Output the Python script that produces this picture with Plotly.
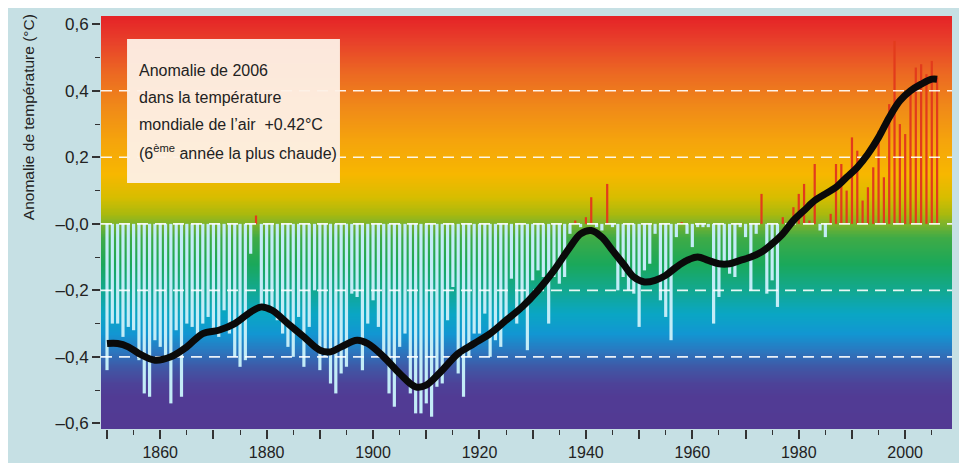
import plotly.graph_objects as go

# ---------------- data ----------------
years = list(range(1850, 2007))
anomaly = [
    -0.44, -0.30, -0.30, -0.34, -0.31, -0.32, -0.41, -0.51, -0.52, -0.35,   # 1850-1859
    -0.37, -0.41, -0.54, -0.32, -0.52, -0.30, -0.31, -0.34, -0.30, -0.28,   # 1860-1869
    -0.32, -0.34, -0.26, -0.33, -0.40, -0.43, -0.41, -0.09, 0.025, -0.26,   # 1870-1879
    -0.25, -0.25, -0.29, -0.33, -0.37, -0.40, -0.28, -0.43, -0.31, -0.20,   # 1880-1889
    -0.44, -0.40, -0.48, -0.51, -0.45, -0.43, -0.21, -0.22, -0.44, -0.30,   # 1890-1899
    -0.23, -0.31, -0.40, -0.51, -0.55, -0.37, -0.33, -0.51, -0.57, -0.57,   # 1900-1909
    -0.54, -0.58, -0.49, -0.48, -0.29, -0.19, -0.45, -0.52, -0.40, -0.33,   # 1910-1919
    -0.33, -0.27, -0.40, -0.35, -0.37, -0.30, -0.165, -0.30, -0.26, -0.38,  # 1920-1929
    -0.17, -0.14, -0.16, -0.30, -0.16, -0.18, -0.16, -0.03, 0.01, -0.01,    # 1930-1939
    0.02, 0.08, -0.01, -0.02, 0.12, -0.01, -0.20, -0.16, -0.20, -0.21,      # 1940-1949
    -0.31, -0.14, -0.12, -0.03, -0.23, -0.28, -0.35, -0.04, 0.005, -0.03,   # 1950-1959
    -0.07, -0.01, -0.01, -0.01, -0.30, -0.22, -0.13, -0.15, -0.16, -0.01,   # 1960-1969
    -0.04, -0.20, -0.03, 0.09, -0.21, -0.17, -0.25, 0.02, -0.01, 0.05,      # 1970-1979
    0.09, 0.12, 0.01, 0.18, -0.02, -0.04, 0.03, 0.18, 0.18, 0.10,           # 1980-1989
    0.26, 0.22, 0.07, 0.11, 0.17, 0.28, 0.14, 0.36, 0.55, 0.30,             # 1990-1999
    0.27, 0.40, 0.47, 0.48, 0.45, 0.49, 0.44,                               # 2000-2006
]

smooth_years = [1850, 1852, 1854, 1856, 1859, 1862, 1865, 1868, 1871, 1874, 1877, 1879,
                1881, 1884, 1887, 1890, 1892, 1894, 1897, 1899, 1902, 1905, 1908, 1910,
                1913, 1916, 1919, 1922, 1925, 1928, 1931, 1934, 1937, 1939, 1941, 1943,
                1945, 1947, 1949, 1951, 1953, 1955, 1957, 1959, 1961, 1963, 1965, 1967,
                1969, 1971, 1973, 1975, 1977, 1979, 1981, 1983, 1985, 1987, 1989, 1991,
                1993, 1995, 1997, 1999, 2001, 2003, 2005, 2006]
smooth_vals = [-0.36, -0.36, -0.37, -0.39, -0.41, -0.40, -0.37, -0.33, -0.32, -0.30, -0.265, -0.25,
               -0.26, -0.30, -0.34, -0.38, -0.385, -0.37, -0.35, -0.36, -0.40, -0.45, -0.49, -0.485,
               -0.44, -0.39, -0.36, -0.33, -0.29, -0.25, -0.20, -0.14, -0.07, -0.03, -0.02, -0.04,
               -0.08, -0.12, -0.16, -0.175, -0.17, -0.155, -0.13, -0.11, -0.10, -0.11, -0.12, -0.12,
               -0.11, -0.10, -0.085, -0.06, -0.03, 0.01, 0.04, 0.07, 0.09, 0.11, 0.14, 0.17,
               0.21, 0.26, 0.32, 0.37, 0.40, 0.42, 0.435, 0.435]

ytick_vals = [0.6, 0.4, 0.2, 0.0, -0.2, -0.4, -0.6]
ytick_text = ["0,6", "0,4", "0,2", "\u20130,0", "\u20130,2", "\u20130,4", "\u20130,6"]
xlabel_vals = [1860, 1880, 1900, 1920, 1940, 1960, 1980, 2000]
xlabel_text = ["1860", "1880", "1900", "1920", "1940", "1960", "1980", "2000"]
xlong_vals = [1850, 1870, 1890, 1910, 1930, 1950, 1970, 1990]
grid_levels = [0.4, 0.2, 0.0, -0.2, -0.4]

y_title = "Anomalie de température (°C)"
note_lines = ["Anomalie de 2006", "dans la température", "mondiale de l\u2019air  +0.42°C",
              "(6<sup>ème</sup> année la plus chaude)"]

# ---------------- style ----------------
XR = [1848.87, 2008.8]
YR = [-0.617, 0.625]
FONT = "Liberation Sans Narrow, Arial Narrow, Liberation Sans, Arial, sans-serif"

grad_stops = [(-0.617, "#523a93"), (-0.52, "#513b94"), (-0.48, "#4d4298"), (-0.43, "#3f58a6"),
              (-0.38, "#2a78c0"), (-0.33, "#1296d2"), (-0.27, "#0aa6c4"), (-0.20, "#12a891"),
              (-0.12, "#1aa85a"), (-0.04, "#3fab46"), (0.0, "#7cb32c"), (0.03, "#a9b90e"),
              (0.08, "#d7bd00"), (0.15, "#f7b700"), (0.25, "#f5a40c"), (0.35, "#f08a18"),
              (0.45, "#ec6a22"), (0.55, "#e8402a"), (0.625, "#e52327")]
colorscale = [[(v - YR[0]) / (YR[1] - YR[0]), c] for v, c in grad_stops]
nrows = 300
ylev = [YR[0] + (YR[1] - YR[0]) * i / (nrows - 1) for i in range(nrows)]

fig = go.Figure()

# background gradient
fig.add_trace(go.Heatmap(
    x=XR, y=ylev, z=[[v, v] for v in ylev], colorscale=colorscale,
    zmin=YR[0], zmax=YR[1], showscale=False, zsmooth="best", hoverinfo="skip"))

neg_y = [v if v < 0 else None for v in anomaly]
pos_y = [v if v > 0 else None for v in anomaly]
fig.add_trace(go.Bar(x=years, y=neg_y, width=0.6, marker=dict(color="#c3ecf7", line=dict(width=0)),
                     hoverinfo="skip"))
fig.add_trace(go.Bar(x=years, y=pos_y, width=0.42, marker=dict(color="#e23b1c", line=dict(width=0)),
                     hoverinfo="skip"))

for g in grid_levels:
    fig.add_trace(go.Scatter(x=XR, y=[g, g], mode="lines", xaxis="x2", yaxis="y",
                             line=dict(color="rgba(255,255,255,0.9)", width=1.6, dash="11px,7px"),
                             hoverinfo="skip"))

fig.add_trace(go.Scatter(x=smooth_years, y=smooth_vals, mode="lines", xaxis="x2", yaxis="y",
                         line=dict(color="#0a0a0a", width=7, shape="spline", smoothing=1.0),
                         hoverinfo="skip"))

# note box
fig.add_shape(type="rect", xref="paper", yref="paper", x0=0.0306, x1=0.2808, y0=0.5956, y1=0.9443,
              fillcolor="rgba(253,240,230,0.95)", line=dict(width=0), layer="above")

ys = [0.869, 0.803, 0.737, 0.671]
for t, yy in zip(note_lines, ys):
    fig.add_annotation(text=t, xref="paper", yref="paper", x=0.0423, y=yy, xanchor="left",
                       yanchor="middle", showarrow=False, font=dict(family=FONT, size=16, color="#222"))

fig.add_annotation(text=y_title, xref="paper", yref="paper", x=-0.0858, y=0.755, textangle=-90,
                   xanchor="center", yanchor="middle", showarrow=False,
                   font=dict(family=FONT, size=15.5, color="#222"))

tick_common = dict(ticks="outside", tickwidth=1.5, tickcolor="#333", showgrid=False,
                   zeroline=False, showline=False)

fig.update_layout(
    width=967, height=463,
    margin=dict(l=93, r=23, t=8, b=42),
    paper_bgcolor="#c6e0e4", plot_bgcolor="#523a93",
    showlegend=False, barmode="overlay",
    font=dict(family=FONT, color="#222"),
    xaxis=dict(range=XR, tickmode="array", tickvals=xlabel_vals, ticktext=xlabel_text,
               ticklen=9,
               minor=dict(tickmode="linear", tick0=1850, dtick=5, ticks="outside", ticklen=5,
                          tickwidth=1.2, tickcolor="#333"),
               tickfont=dict(family=FONT, size=16, color="#222"), **tick_common),
    xaxis2=dict(range=XR, overlaying="x", side="bottom", anchor="y", tickmode="array",
                tickvals=xlong_vals, ticklen=9, showticklabels=False, **tick_common),
    yaxis=dict(range=YR, tickmode="array", tickvals=ytick_vals, ticktext=ytick_text,
               ticklen=8,
               minor=dict(tickmode="linear", tick0=0, dtick=0.1, ticks="outside", ticklen=5,
                          tickwidth=1.2, tickcolor="#333"),
               tickfont=dict(family=FONT, size=17, color="#222"), **tick_common),
)

fig.write_html("out.html")
